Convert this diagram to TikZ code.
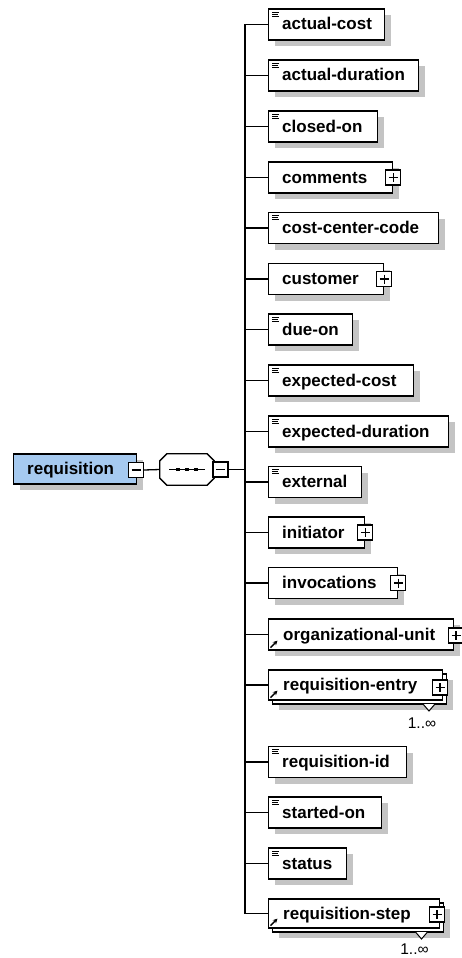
\documentclass[tikz,border=0pt]{standalone}
\usepackage{fontspec}
\setmainfont{Liberation Sans}
\usetikzlibrary{shadows,arrows.meta}

\definecolor{shadegray}{RGB}{196,196,196}
\definecolor{rootblue}{RGB}{166,202,240}

\tikzset{
  line/.style={line width=1.3pt},
  dropsh/.style={drop shadow={shadow xshift=6pt,shadow yshift=-6pt,fill=shadegray,opacity=1}},
  plainbox/.style={draw, line width=1.3pt, fill=white, minimum height=31pt, inner sep=0pt, anchor=west},
  elembox/.style={plainbox, dropsh},
  elemtext/.style={font=\fontsize{17}{20}\selectfont\bfseries, inner sep=0pt, anchor=base west},
  occtext/.style={font=\fontsize{15.5}{18}\selectfont, inner sep=0pt, anchor=base},
  pmbox/.style={draw, line width=1.2pt, fill=white, minimum size=15pt, inner sep=0pt},
  plusbox/.style={pmbox, path picture={
      \draw[line width=1.2pt]
        ([xshift=3pt]path picture bounding box.west) -- ([xshift=-3pt]path picture bounding box.east)
        ([yshift=-3pt]path picture bounding box.north) -- ([yshift=3pt]path picture bounding box.south);}},
  minusbox/.style={pmbox, path picture={
      \draw[line width=1.2pt]
        ([xshift=3pt]path picture bounding box.west) -- ([xshift=-3pt]path picture bounding box.east);}},
  seqframe/.style={minimum width=54pt, minimum height=31pt, inner sep=0pt},
  tri/.style={draw, line width=1pt, fill=white},
  iconline/.style={line width=0.9pt},
}

% child element: #1 name, #2 centre y, #3 box width, #4 label, #5 label x
\newcommand\xelem[5]{%
  \coordinate (t-#1) at (245,#2);
  \node[elembox, minimum width=#3pt] (#1) at (268,#2) {};
  \node[elemtext] (#1-lbl) at (#5,#2+5.5) {#4};
  \draw[line] (t-#1) -- (#1.west);
}
% simple-type marker in the upper left corner
\newcommand\xsimple[1]{%
  \draw[iconline] ([xshift=4pt,yshift=-4pt]#1.north west) -- ++(7,0)
                  ([xshift=4pt,yshift=-6pt]#1.north west) -- ++(6,0)
                  ([xshift=4pt,yshift=-8pt]#1.north west) -- ++(7,0);
}
% reference marker in the lower left corner
\newcommand\xref[1]{%
  \draw[line width=1.3pt, -{Stealth[length=4.5pt,width=4.5pt]}]
    ([xshift=2.5pt,yshift=3pt]#1.south west) -- ++(7,-7);
}
% octagon outline of the sequence compositor, corner cut 7
\newcommand\xoctpath{%
  ([xshift=7pt]seq.north west) -- ([xshift=-7pt]seq.north east)
  -- ([yshift=-7pt]seq.north east) -- ([yshift=7pt]seq.south east)
  -- ([xshift=-7pt]seq.south east) -- ([xshift=7pt]seq.south west)
  -- ([yshift=7pt]seq.south west) -- ([yshift=-7pt]seq.north west) -- cycle}

\begin{document}
\begin{tikzpicture}[x=1pt,y=-1pt]
\useasboundingbox (0,0) rectangle (461,958);
\fill[white] (0,0) rectangle (461,958);

% root element and sequence compositor
\node[plainbox, dropsh, fill=rootblue, minimum width=123pt, minimum height=30pt] (root) at (13,469) {};
\node[elemtext] (root-lbl) at (27,474.5) {requisition};
\node[minusbox] (root-m) at (136,470) {};
\node[seqframe] (seq) at (187,469.5) {};
\fill[shadegray, shift={(6,6)}] \xoctpath;
\draw[line, fill=white] \xoctpath;
\draw[line] ([xshift=-18pt]seq.center) -- ([xshift=18pt]seq.center);
\foreach \sx in {-9,0,9}
  \fill ([xshift=\sx pt-1.8pt,yshift=-1.8pt]seq.center) rectangle ([xshift=\sx pt+1.8pt,yshift=1.8pt]seq.center);
\node[minusbox] (seq-m) at (220.5,469.5) {};
\coordinate (trunk) at (245,469.5);
\draw[line] (root-m.east) -- (seq.west);
\draw[line] (seq-m.east) -- (trunk);

% children
\xelem{actual-cost}{24.5}{116}{actual-cost}{282}
\xsimple{actual-cost}
\xelem{actual-duration}{75.5}{150}{actual-duration}{282}
\xsimple{actual-duration}
\xelem{closed-on}{126.5}{109}{closed-on}{282}
\xsimple{closed-on}
\xelem{comments}{177.5}{124}{comments}{282}
\node[plusbox] (comments-p) at (comments.east) {};
\xelem{cost-center-code}{228}{170}{cost-center-code}{282}
\xsimple{cost-center-code}
\xelem{customer}{279}{115}{customer}{282}
\node[plusbox] (customer-p) at (customer.east) {};
\xelem{due-on}{329.5}{84}{due-on}{282}
\xsimple{due-on}
\xelem{expected-cost}{380.5}{145}{expected-cost}{282}
\xsimple{expected-cost}
\xelem{expected-duration}{431.5}{180}{expected-duration}{282}
\xsimple{expected-duration}
\xelem{external}{482}{93}{external}{282}
\xsimple{external}
\xelem{initiator}{532.5}{96}{initiator}{282}
\node[plusbox] (initiator-p) at (initiator.east) {};
\xelem{invocations}{583}{129}{invocations}{282}
\node[plusbox] (invocations-p) at (invocations.east) {};
\xelem{organizational-unit}{634.5}{185}{organizational-unit}{283}
\xref{organizational-unit}
\node[plusbox] (organizational-unit-p) at (456,635.5) {};

% requisition-entry (1..unbounded)
\coordinate (t-requisition-entry) at (245,685);
\node[elembox, minimum width=174pt, minimum height=30pt] (requisition-entry-back) at (272,689) {};
\node[plainbox, minimum width=174pt, minimum height=30pt] (requisition-entry) at (268,685) {};
\node[elemtext] (requisition-entry-lbl) at (283,690.5) {requisition-entry};
\draw[line] (t-requisition-entry) -- (requisition-entry.west);
\xref{requisition-entry}
\node[plusbox] (requisition-entry-p) at (440,687.5) {};
\draw[tri] (423,704) -- (429,711) -- (435,704);
\node[occtext] (requisition-entry-occ) at (422,728) {1..∞};

\xelem{requisition-id}{762}{138}{requisition-id}{282}
\xsimple{requisition-id}
\xelem{started-on}{812.5}{113}{started-on}{282}
\xsimple{started-on}
\xelem{status}{863.5}{78}{status}{282}
\xsimple{status}

% requisition-step (1..unbounded)
\coordinate (t-requisition-step) at (245,913.5);
\node[elembox, minimum width=171pt, minimum height=29pt] (requisition-step-back) at (272,917.5) {};
\node[plainbox, minimum width=171pt, minimum height=29pt] (requisition-step) at (268,913.5) {};
\node[elemtext] (requisition-step-lbl) at (283,919) {requisition-step};
\draw[line] (t-requisition-step) -- (requisition-step.west);
\xref{requisition-step}
\node[plusbox] (requisition-step-p) at (437,914.5) {};
\draw[tri] (415.5,932) -- (421.5,939) -- (427.5,932);
\node[occtext] (requisition-step-occ) at (414.5,954.5) {1..∞};

% vertical trunk of the sequence
\draw[line] (t-actual-cost) -- (t-requisition-step);
\end{tikzpicture}
\end{document}
